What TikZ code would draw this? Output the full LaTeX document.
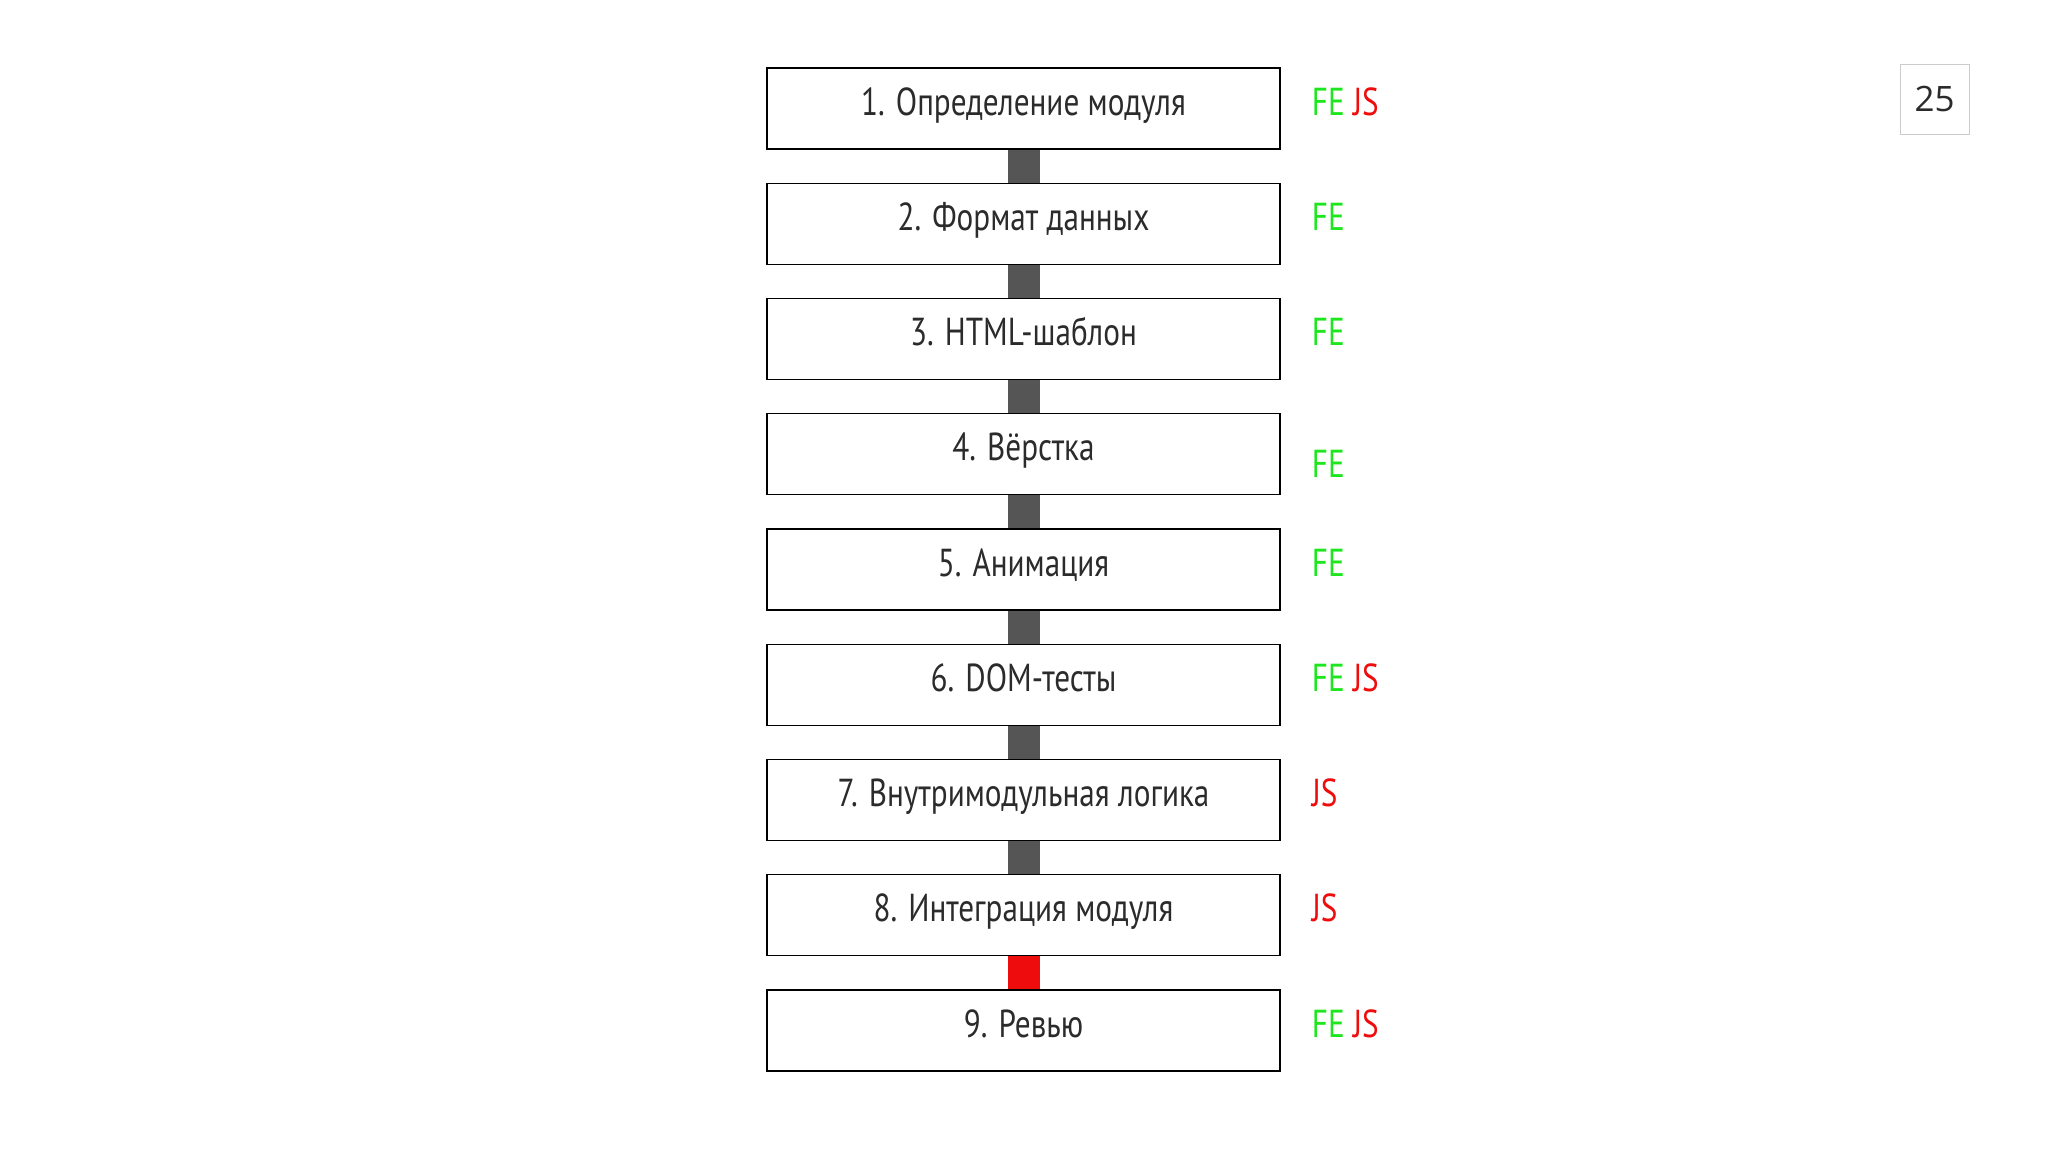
\documentclass[tikz,border=0pt]{standalone}
\usepackage{fontspec}
\setmainfont[FakeStretch=0.8]{PT Sans}
\newfontfamily\pagefont{Open Sans}
\usetikzlibrary{positioning}

\definecolor{feGreen}{HTML}{1EE61E}
\definecolor{jsRed}{HTML}{EE0C0C}
\definecolor{barGray}{HTML}{555555}
\definecolor{textGray}{HTML}{2B2B2B}

\begin{document}
\begin{tikzpicture}[x=1pt, y=-1pt,
		stepbox/.style={draw=black, line width=1.4pt, fill=white, minimum width=513pt, minimum height=81pt, inner sep=0pt, text height=27pt, text depth=14pt, text=textGray, font=\fontsize{39}{46}\selectfont},
		tag/.style={inner sep=0pt, text height=27pt, text depth=14pt, font=\fontsize{39}{46}\selectfont},
		link/.style={line width=32pt, barGray}]
				\useasboundingbox (0,0) rectangle (2048,1152);
				
				% Draw the steps
				\node[stepbox] (s1) at (1023.5,108.5) {1. Определение модуля};
				\node[stepbox] (s2) at (1023.5,223.75) {2. Формат данных};
				\node[stepbox] (s3) at (1023.5,339) {3. HTML-шаблон};
				\node[stepbox] (s4) at (1023.5,454.25) {4. Вёрстка};
				\node[stepbox] (s5) at (1023.5,569.5) {5. Анимация};
				\node[stepbox] (s6) at (1023.5,684.75) {6. DOM-тесты};
				\node[stepbox] (s7) at (1023.5,800) {7. Внутримодульная логика};
				\node[stepbox] (s8) at (1023.5,915.25) {8. Интеграция модуля};
				\node[stepbox] (s9) at (1023.5,1030.5) {9. Ревью};
				
				% Join the steps with thick bars
				\draw[link] (s1.south) -- (s2.north);
				\draw[link] (s2.south) -- (s3.north);
				\draw[link] (s3.south) -- (s4.north);
				\draw[link] (s4.south) -- (s5.north);
				\draw[link] (s5.south) -- (s6.north);
				\draw[link] (s6.south) -- (s7.north);
				\draw[link] (s7.south) -- (s8.north);
				\draw[link, jsRed] (s8.south) -- (s9.north);
				
				% Who does each step
				\node[tag, right=31pt of s1] (t1) {\textcolor{feGreen}{FE} \textcolor{jsRed}{JS}};
				\node[tag, right=31pt of s2] (t2) {\textcolor{feGreen}{FE}};
				\node[tag, right=31pt of s3] (t3) {\textcolor{feGreen}{FE}};
				\node[tag, right=31pt of s4, yshift=-17pt] (t4) {\textcolor{feGreen}{FE}};
				\node[tag, right=31pt of s5] (t5) {\textcolor{feGreen}{FE}};
				\node[tag, right=31pt of s6] (t6) {\textcolor{feGreen}{FE} \textcolor{jsRed}{JS}};
				\node[tag, right=31pt of s7] (t7) {\textcolor{jsRed}{JS}};
				\node[tag, right=31pt of s8] (t8) {\textcolor{jsRed}{JS}};
				\node[tag, right=31pt of s9] (t9) {\textcolor{feGreen}{FE} \textcolor{jsRed}{JS}};
				
				% Page number
				\node[draw=black!20, line width=1pt, minimum width=69pt, minimum height=70pt, inner sep=0pt, text=textGray, font=\pagefont\fontsize{35}{42}\selectfont] (page) at (1934.5,99) {25};
			\end{tikzpicture}
\end{document}
